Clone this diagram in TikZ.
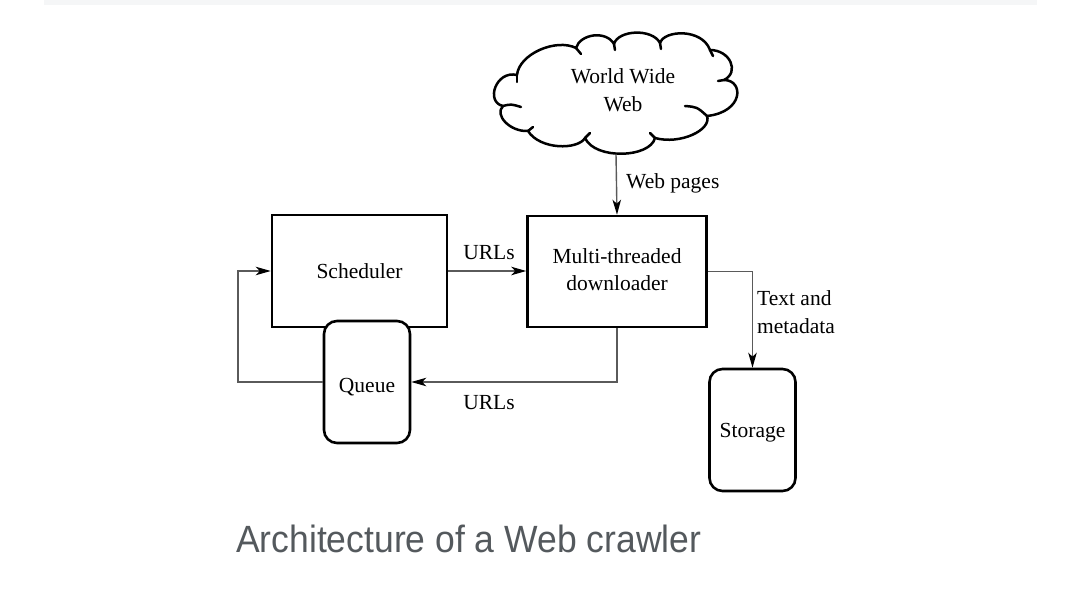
\documentclass[tikz,border=0pt]{standalone}
\usepackage{fontspec}
\setmainfont{Liberation Serif}
\newfontfamily\capfont{Liberation Sans}
\usetikzlibrary{arrows.meta}
\definecolor{bandgray}{HTML}{F5F6F7}
\definecolor{linegray}{HTML}{5A5A5A}
\definecolor{capgray}{HTML}{54595D}
\tikzset{
  txt/.style={font=\fontsize{21.5}{27.5}\selectfont, text=black, align=center, inner sep=0pt},
  boxnode/.style={draw=black, line width=2.6pt, fill=white, inner sep=0pt, txt},
  roundbox/.style={boxnode, rounded corners=13pt},
  conn/.style={draw=linegray, line width=1.4pt, -{Stealth[length=15pt,width=8.5pt,inset=4pt,color=black]}},
  cloudline/.style={draw=black, line width=2.5pt, line cap=round, line join=round},
}
\begin{document}
\begin{tikzpicture}[x=1pt,y=-1pt]
\useasboundingbox (0,0) rectangle (1079,593);
% top band
\fill[bandgray] (44,0) rectangle (1037,5);

% cloud
\path[cloudline, fill=white]
  (517,75) .. controls (519,54) and (556,38) .. (576,48)
  .. controls (580,34) and (606,30) .. (614,44)
  .. controls (618,30) and (652,28) .. (660,43)
  .. controls (664,30) and (702,28) .. (710,50)
  .. controls (730,50) and (740,72) .. (724,80)
  .. controls (744,80) and (744,112) .. (707,116)
  .. controls (712,130) and (680,145) .. (655,138)
  .. controls (650,158) and (595,160) .. (585,138)
  .. controls (578,150) and (540,150) .. (528,131)
  .. controls (510,132) and (494,115) .. (503,106)
  .. controls (485,102) and (496,70) .. (517,75) -- cycle;
% cloud inner tails
\draw[cloudline] (517,75) -- (517,82);
\draw[cloudline] (576,48) -- (581,54);
\draw[cloudline] (614,44) -- (615,50);
\draw[cloudline] (660,43) -- (661,49);
\draw[cloudline] (710,50) -- (713,56);
\draw[cloudline] (724,80) -- (718,81);
\draw[cloudline] (685,106) .. controls (697,107) .. (707,116);
\draw[cloudline] (655,138) -- (650,133);
\draw[cloudline] (585,138) -- (590,133);
\draw[cloudline] (528,131) -- (533,127);
\draw[cloudline] (503,106) .. controls (511,104) .. (521,107);
\node[txt] (www) at (623,90) {World Wide\\Web};
\coordinate (wwwb) at (616,154);

% boxes
\node[boxnode, minimum width=175pt, minimum height=112pt] (sched) at (359.5,271) {Scheduler};
\node[boxnode, minimum width=179pt, minimum height=111pt] (dl) at (617,271.5) {\raisebox{-2pt}{\begin{tabular}{@{}c@{}}Multi-threaded\\[-1pt]downloader\end{tabular}}};
\node[roundbox, minimum width=86pt, minimum height=122pt, text height=20pt, text depth=0pt] (queue) at (367,382) {Queue};
\node[roundbox, minimum width=86pt, minimum height=122pt, text height=16pt, text depth=0pt] (store) at (752.5,430) {Storage};

% connectors
\draw[conn] (wwwb) -- (dl.north);
\node[txt, anchor=west] (lwp) at (626,183) {Web pages};

\draw[conn] (sched.east) -- (dl.west |- sched.east);
\node[txt] (lurl1) at (489,253) {URLs};

\draw[conn] (dl.east) -| (store.north);
\node[txt, anchor=west, align=left] (ltm) at (757,312) {Text and\\metadata};

\draw[conn] (dl.south) |- (queue.east);
\node[txt] (lurl2) at (489,403) {URLs};

\coordinate (loopc) at (238,382);
\draw[conn] (queue.west) -- (loopc) |- (sched.west);

% caption
\node[anchor=base west, inner sep=0pt, text=capgray, font=\capfont\fontsize{35.5}{40}\selectfont] (cap) at (236,552) {\scalebox{1}[1.07]{Architecture of a Web crawler}};
\end{tikzpicture}
\end{document}
